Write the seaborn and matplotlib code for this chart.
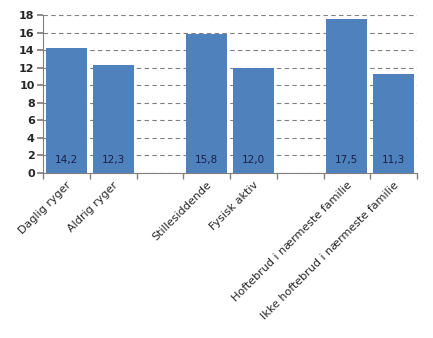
import matplotlib
matplotlib.use("Agg")
import matplotlib.pyplot as plt
import seaborn as sns
import pandas as pd
import numpy as np

categories = ["Daglig ryger", "Aldrig ryger", "Stillesiddende", "Fysisk aktiv",
              "Hoftebrud i nærmeste familie", "Ikke hoftebrud i nærmeste familie"]
values = [14.2, 12.3, 15.8, 12.0, 17.5, 11.3]
order = ["Daglig ryger", "Aldrig ryger", " ", "Stillesiddende", "Fysisk aktiv", "  ",
         "Hoftebrud i nærmeste familie", "Ikke hoftebrud i nærmeste familie"]
yticks = [0, 2, 4, 6, 8, 10, 12, 14, 16, 18]

sns.set_theme(style="white")
plt.rcParams['font.family'] = ['DejaVu Sans']

df = pd.DataFrame({"cat": categories, "val": values})

fig = plt.figure(figsize=(4.33, 3.38), dpi=100)
ax = fig.add_axes([43/433, 1 - 173/338, 374/433, 158/338])

sns.barplot(data=df, x="cat", y="val", order=order, color="#4F81BD",
            saturation=1, width=0.88, ax=ax, zorder=3, linewidth=0)

ax.set_xlim(-0.5, 7.5)
ax.set_ylim(0, 18)
ax.set_yticks(yticks)
ax.set_yticklabels([str(v) for v in yticks], fontsize=8, fontweight="bold")
ax.yaxis.grid(True, linestyle=(0, (4, 3)), color="#808080", linewidth=0.8, zorder=0)
ax.set_axisbelow(True)

ax.set_xticks(range(len(order)))
ax.set_xticklabels(order, rotation=45, ha="right", rotation_mode="anchor", fontsize=8)
ax.tick_params(axis="x", length=0, pad=5)
ax.set_xticks(np.arange(-0.5, 8.0, 1.0), minor=True)
ax.tick_params(axis="x", which="minor", length=4, color="#808080", direction="out", bottom=True)
ax.tick_params(axis="y", length=4, color="#808080", direction="out", left=True, pad=2)

for s in ["top", "right"]:
    ax.spines[s].set_visible(False)
for s in ["left", "bottom"]:
    ax.spines[s].set_color("#808080")
    ax.spines[s].set_linewidth(0.8)

ax.set_xlabel("")
ax.set_ylabel("")

for c, v in zip(categories, values):
    i = order.index(c)
    ax.text(i, 1.5, f"{v:.1f}".replace(".", ","), ha="center", va="center",
            fontsize=7.5, color="#1A1F4A", zorder=4)

fig.savefig("out.png", dpi=100)
